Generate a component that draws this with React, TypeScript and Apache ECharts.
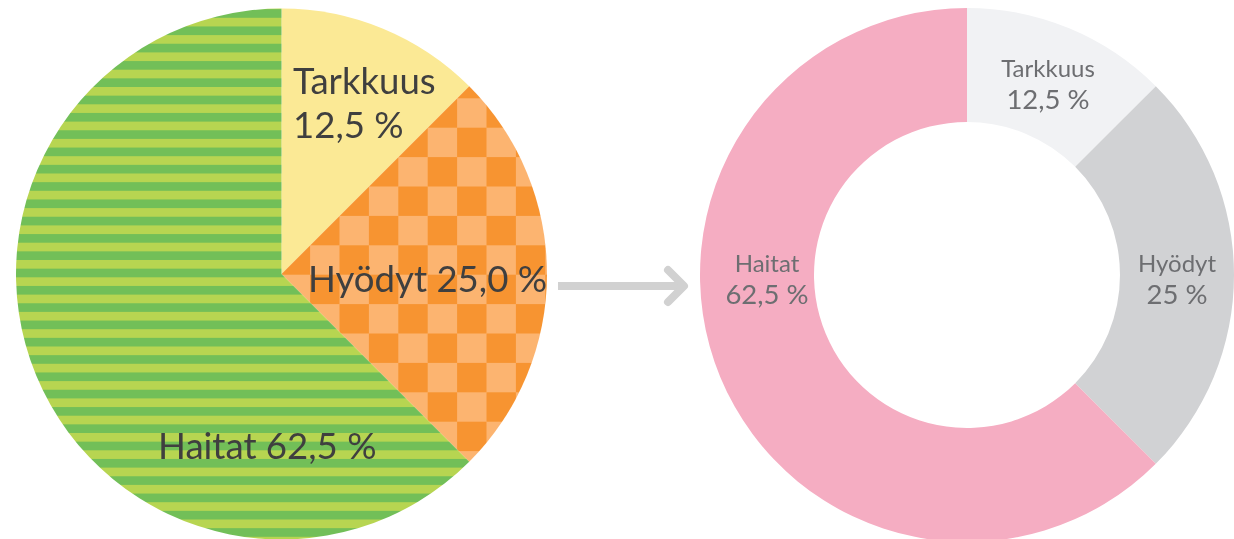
import React, { useEffect, useRef } from "react";
import * as echarts from "echarts";

const categories = ["Tarkkuus", "Hyödyt", "Haitat"];
const values = [12.5, 25.0, 62.5];
const leftLabels = ["Tarkkuus\n12,5 %", "Hyödyt 25,0 %", "Haitat 62,5 %"];
const rightNames = ["Tarkkuus", "Hyödyt", "Haitat"];
const rightValues = ["12,5 %", "25 %", "62,5 %"];

const leftLabelPos = [
  { x: 293, y: 102, align: "left" },
  { x: 308, y: 278, align: "left" },
  { x: 158, y: 445, align: "left" },
];
const rightLabelPos = [
  { x: 1048, y: 83, align: "center" },
  { x: 1177, y: 278, align: "center" },
  { x: 767, y: 278, align: "center" },
];

// stripes: period 17.3px, light band starting at y = 0.5
function makeStripe(): HTMLCanvasElement {
  const period = 17.3;
  const n = 10;
  const h = Math.round(period * n);
  const c = document.createElement("canvas");
  c.width = 4;
  c.height = h;
  const g = c.getContext("2d")!;
  g.fillStyle = "#72BF58";
  g.fillRect(0, 0, 4, h);
  g.fillStyle = "#B7D551";
  for (let k = -1; k <= n; k++) {
    const y0 = 0.5 + k * period;
    g.fillRect(0, y0, 4, period / 2);
  }
  return c;
}

// checkerboard: cell 29.4px, grid origin (16.1, 10.1), light where (col+row) even
function makeChecker(): HTMLCanvasElement {
  const cell = 29.4;
  const n = 10;
  const s = Math.round(cell * n);
  const c = document.createElement("canvas");
  c.width = s;
  c.height = s;
  const g = c.getContext("2d")!;
  g.fillStyle = "#FCB470";
  g.fillRect(0, 0, s, s);
  g.fillStyle = "#F79431";
  const ox = 16.1;
  const oy = 10.1;
  for (let i = -2; i <= n + 1; i++) {
    for (let j = -2; j <= n + 1; j++) {
      if (((i + j) % 2 + 2) % 2 === 1) {
        g.fillRect(ox + i * cell, oy + j * cell, cell, cell);
      }
    }
  }
  return c;
}

export default function App() {
  const ref = useRef<HTMLDivElement>(null);
  useEffect(() => {
    if (!ref.current) return;
    const chart = echarts.init(ref.current, null, { renderer: "svg" });
    const stripe = makeStripe();
    const checker = makeChecker();
    const leftColors: any[] = [
      "#FBE995",
      {
        image: checker,
        repeat: "repeat",
        imageWidth: checker.width,
        imageHeight: checker.height,
      },
      {
        image: stripe,
        repeat: "repeat",
        imageWidth: stripe.width,
        imageHeight: stripe.height,
      },
    ];
    const rightColors = ["#F1F2F4", "#D1D2D4", "#F5ADC2"];

    chart.setOption({
      animation: false,
      series: [
        {
          type: "pie",
          silent: true,
          center: [281.5, 274],
          radius: [0, 265.5],
          startAngle: 90,
          clockwise: true,
          data: categories.map((n, i) => ({
            name: n,
            value: values[i],
            itemStyle: { color: leftColors[i], borderWidth: 0 },
          })),
          label: {
            show: true,
            position: "inside",
            formatter: (p: any) => leftLabels[p.dataIndex],
            fontFamily: "Lato",
            fontSize: 36.6,
            lineHeight: 44,
            color: "#3F3F3F",
          },
          labelLine: { show: false },
          labelLayout: (p: any) => ({
            x: leftLabelPos[p.dataIndex].x,
            y: leftLabelPos[p.dataIndex].y,
            align: leftLabelPos[p.dataIndex].align,
            verticalAlign: "middle",
          }),
        },
        {
          type: "pie",
          silent: true,
          center: [967, 275],
          radius: [153, 267],
          startAngle: 90,
          clockwise: true,
          data: categories.map((n, i) => ({
            name: n,
            value: values[i],
            itemStyle: { color: rightColors[i], borderWidth: 0 },
          })),
          label: {
            show: true,
            position: "inside",
            formatter: (p: any) =>
              `{n|${rightNames[p.dataIndex]}}\n{v|${rightValues[p.dataIndex]}}`,
            fontFamily: "Lato",
            color: "#6D6E71",
            rich: {
              n: {
                fontFamily: "Lato",
                fontSize: 24,
                lineHeight: 30,
                color: "#6D6E71",
              },
              v: {
                fontFamily: "Lato",
                fontSize: 27.5,
                lineHeight: 32,
                color: "#6D6E71",
              },
            },
          },
          labelLine: { show: false },
          labelLayout: (p: any) => ({
            x: rightLabelPos[p.dataIndex].x,
            y: rightLabelPos[p.dataIndex].y,
            align: rightLabelPos[p.dataIndex].align,
            verticalAlign: "middle",
          }),
        },
      ],
      graphic: [
        {
          type: "line",
          shape: { x1: 558, y1: 286, x2: 682, y2: 286 },
          style: { stroke: "#D1D1D1", lineWidth: 8, lineCap: "butt" },
        },
        {
          type: "polyline",
          shape: { points: [[668, 270], [684, 286], [668, 302]] },
          style: {
            stroke: "#D1D1D1",
            lineWidth: 8,
            lineCap: "round",
            lineJoin: "round",
            fill: "none",
          },
        },
      ],
    });
    return () => chart.dispose();
  }, []);
  return (
    <div
      ref={ref}
      style={{ position: "fixed", left: 0, top: 0, width: 1234, height: 539 }}
    />
  );
}
